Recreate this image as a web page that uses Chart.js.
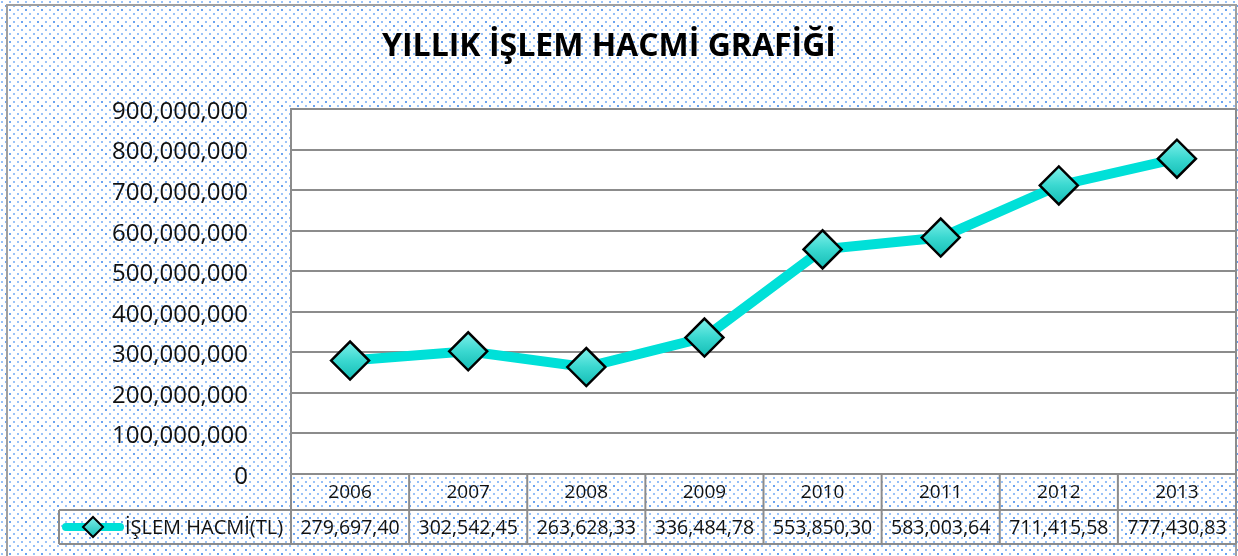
<!DOCTYPE html>
<html>
<head>
<meta charset="utf-8">
<script src="https://cdn.jsdelivr.net/npm/chart.js@4"></script>
<style>
html,body{margin:0;padding:0;background:#fff;}
#wrap{width:1238px;height:556px;position:relative;}
</style>
</head>
<body>
<div id="wrap"><canvas id="c" width="1238" height="556"></canvas></div>
<script>
// ---- data ----
const titleText = 'YILLIK İŞLEM HACMİ GRAFİĞİ';
const seriesName = 'İŞLEM HACMİ(TL)';
const years = ['2006','2007','2008','2009','2010','2011','2012','2013'];
const volumes = [279697400, 302542450, 263628330, 336484780, 553850300, 583003640, 711415580, 777430830];
const tableLabels = ['279,697,40','302,542,45','263,628,33','336,484,78','553,850,30','583,003,64','711,415,58','777,430,83'];
const yMax = 900000000;
const yStep = 100000000;

const FONT = "'Open Sans', 'DejaVu Sans', sans-serif";
const LINE_COLOR = '#00e0d8';
const GRID = '#8c8c8c';

function makePattern(ctx){
  const t = document.createElement('canvas');
  t.width = 16; t.height = 16;
  const g = t.getContext('2d');
  g.fillStyle = '#ffffff';
  g.fillRect(0,0,16,16);
  const dots = [[1,1,'#94bff7'],[9,1,'#9cc4f8'],[5,5,'#6aa3f0'],[13,5,'#94bff7'],
                [1,9,'#9cc4f8'],[9,9,'#6aa3f0'],[5,13,'#94bff7'],[13,13,'#9cc4f8']];
  for (const [x,y,c] of dots){ g.fillStyle = c; g.fillRect(x,y,2,2); }
  return ctx.createPattern(t,'repeat');
}

function markerFill(c){
  const chart = c.chart;
  if (!chart.chartArea || c.parsed == null || !chart.scales.y) return '#35d6cf';
  const y = chart.scales.y.getPixelForValue(c.parsed.y);
  const g = chart.ctx.createLinearGradient(0, y-19, 0, y+19);
  g.addColorStop(0, '#7ff0ea');
  g.addColorStop(0.5, '#3ad8d0');
  g.addColorStop(1, '#14bdb5');
  return g;
}

const bgPlugin = {
  id:'bg',
  beforeDraw(chart){
    const ctx = chart.ctx, a = chart.chartArea;
    ctx.save();
    ctx.fillStyle = makePattern(ctx);
    ctx.fillRect(0,0,chart.width,chart.height);
    ctx.fillStyle = '#ffffff';
    ctx.fillRect(a.left,a.top,a.right-a.left,a.bottom-a.top);
    ctx.strokeStyle = '#a0a0a0';
    ctx.lineWidth = 2;
    ctx.strokeRect(7,5,1236-7,600);
    ctx.fillStyle = '#000';
    ctx.textAlign = 'center';
    ctx.textBaseline = 'middle';
    ctx.font = 'bold 32px ' + FONT;
    ctx.fillText(titleText, 609, 47);
    ctx.restore();
  },
  afterDraw(chart){
    const ctx = chart.ctx, a = chart.chartArea, xs = chart.scales.x;
    const n = years.length;
    const colW = (a.right - a.left)/n;
    const r1t = a.bottom, r1b = a.bottom + 36, r2b = r1b + 34;
    const legL = 59;
    ctx.save();
    ctx.strokeStyle = GRID;
    ctx.lineWidth = 2;
    ctx.strokeRect(a.left, a.top, a.right-a.left, a.bottom-a.top);
    ctx.beginPath();
    ctx.moveTo(legL, r1b); ctx.lineTo(a.right, r1b);
    ctx.moveTo(legL, r2b); ctx.lineTo(a.right, r2b);
    ctx.moveTo(legL, r1b); ctx.lineTo(legL, r2b);
    for(let i=0;i<=n;i++){
      const x = a.left + i*colW;
      ctx.moveTo(x, r1t); ctx.lineTo(x, r2b);
    }
    ctx.stroke();
    ctx.fillStyle = '#111';
    ctx.textAlign = 'center';
    ctx.textBaseline = 'middle';
    for(let i=0;i<n;i++){
      const cx = xs.getPixelForValue(i);
      ctx.font = '19px ' + FONT;
      ctx.fillText(years[i], cx, (r1t+r1b)/2+1);
      ctx.font = '19.5px ' + FONT;
      ctx.fillText(tableLabels[i], cx, (r1b+r2b)/2+1);
    }
    const ly = (r1b+r2b)/2;
    ctx.strokeStyle = LINE_COLOR;
    ctx.lineWidth = 8;
    ctx.lineCap = 'round';
    ctx.beginPath(); ctx.moveTo(66, ly); ctx.lineTo(120, ly); ctx.stroke();
    ctx.beginPath();
    ctx.moveTo(93-10, ly); ctx.lineTo(93, ly-10); ctx.lineTo(93+10, ly); ctx.lineTo(93, ly+10); ctx.closePath();
    const lg = ctx.createLinearGradient(0, ly-10, 0, ly+10);
    lg.addColorStop(0, '#7ff0ea'); lg.addColorStop(1, '#14bdb5');
    ctx.fillStyle = lg; ctx.fill();
    ctx.strokeStyle = '#000'; ctx.lineWidth = 2; ctx.stroke();
    ctx.fillStyle = '#111';
    ctx.textAlign = 'left';
    ctx.font = '20px ' + FONT;
    ctx.fillText(seriesName, 125, ly+1);
    ctx.restore();
  }
};

const ctx = document.getElementById('c').getContext('2d');
new Chart(ctx, {
  type:'line',
  data:{
    labels: years,
    datasets:[{
      label: seriesName,
      data: volumes,
      borderColor: LINE_COLOR,
      borderWidth: 10,
      tension: 0,
      pointStyle: 'rectRot',
      pointRadius: 19,
      pointHoverRadius: 19,
      pointBackgroundColor: markerFill,
      pointBorderColor: '#000',
      pointBorderWidth: 2.5
    }]
  },
  options:{
    responsive:false,
    animation:false,
    events:[],
    layout:{autoPadding:false, padding:{left:0,right:2,top:109,bottom:82}},
    plugins:{
      legend:{display:false},
      tooltip:{enabled:false},
      title:{display:false}
    },
    scales:{
      x:{
        display:false,
        offset:true
      },
      y:{
        min:0, max:yMax,
        afterFit(s){ s.width = 291; },
        ticks:{
          stepSize:yStep,
          padding:43,
          labelOffset:3,
          color:'#111',
          font:{family:FONT, size:24},
          callback:(v)=>Number(v).toLocaleString('en-US')
        },
        grid:{color:GRID, lineWidth:2, drawTicks:false},
        border:{display:true, color:GRID, width:2}
      }
    }
  },
  plugins:[bgPlugin]
});
</script>
</body>
</html>
